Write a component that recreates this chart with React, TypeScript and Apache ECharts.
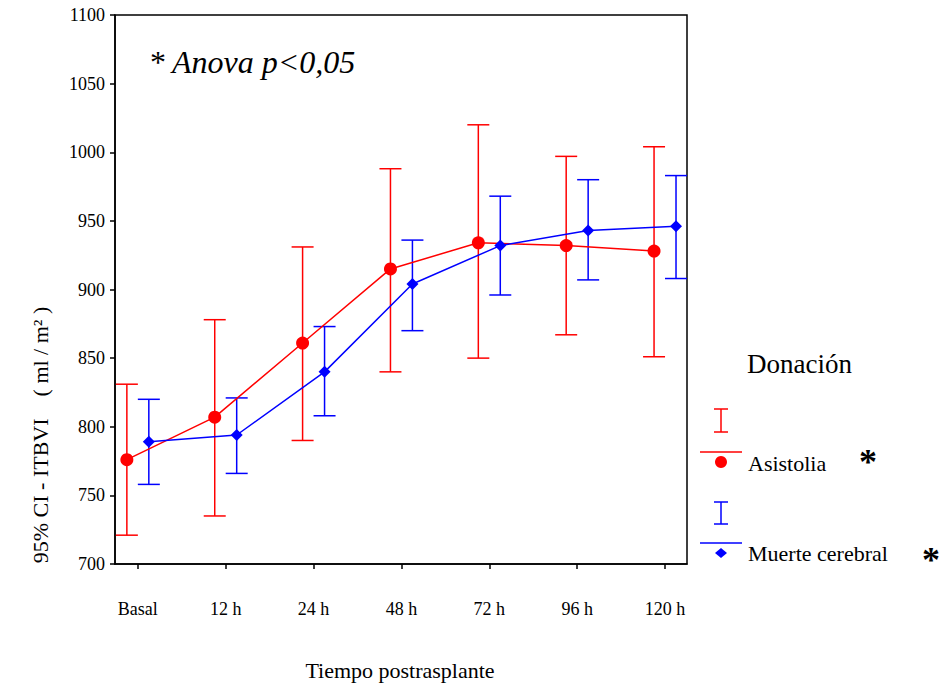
import React, { useEffect, useRef } from "react";
import * as echarts from "echarts";

const categories = ["Basal", "12 h", "24 h", "48 h", "72 h", "96 h", "120 h"];
const asistoliaMean = [776, 807, 861, 915, 934, 932, 928];
const asistoliaLow = [721, 735, 790, 840, 850, 867, 851];
const asistoliaHigh = [831, 878, 931, 988, 1020, 997, 1004];
const muerteMean = [789, 794, 840, 904, 932, 943, 946];
const muerteLow = [758, 766, 808, 870, 896, 907, 908];
const muerteHigh = [820, 821, 873, 936, 968, 980, 983];
const yTicks = [700, 750, 800, 850, 900, 950, 1000, 1050, 1100];

const RED = "#ff0000";
const BLUE = "#0000ff";
const FONT = "'Liberation Serif', 'Times New Roman', serif";
const OFFSET = 0.125;

function errorSeries(low: number[], high: number[], off: number, color: string) {
  return {
    type: "custom",
    data: low.map((l, i) => [i + off, l, high[i]]),
    renderItem: (params: any, api: any) => {
      const x = api.value(0);
      const lo = api.coord([x, api.value(1)]);
      const hi = api.coord([x, api.value(2)]);
      const hw = 11;
      const style = { stroke: color, lineWidth: 1.5 };
      return {
        type: "group",
        children: [
          { type: "line", shape: { x1: lo[0], y1: lo[1], x2: hi[0], y2: hi[1] }, style },
          { type: "line", shape: { x1: lo[0] - hw, y1: lo[1], x2: lo[0] + hw, y2: lo[1] }, style },
          { type: "line", shape: { x1: hi[0] - hw, y1: hi[1], x2: hi[0] + hw, y2: hi[1] }, style },
        ],
      };
    },
    z: 2,
  };
}

export default function App() {
  const ref = useRef<HTMLDivElement>(null);
  useEffect(() => {
    if (!ref.current) return;
    const chart = echarts.init(ref.current, null, { renderer: "svg" });
    const idx = categories.map((_, i) => i);
    chart.setOption({
      animation: false,
      backgroundColor: "#ffffff",
      grid: {
        left: 115,
        right: 259,
        top: 15,
        bottom: 122,
        show: true,
        borderColor: "#000",
        borderWidth: 1.5,
      },
      xAxis: {
        type: "value",
        min: -0.26,
        max: 6.25,
        splitLine: { show: false },
        axisLine: { onZero: false, lineStyle: { color: "#000", width: 1.5 } },
        axisTick: { show: true, length: 5, customValues: idx, lineStyle: { color: "#000", width: 1.5 } },
        axisLabel: {
          customValues: idx,
          formatter: (v: number) => categories[Math.round(v)] ?? "",
          margin: 36,
          color: "#000",
          fontFamily: FONT,
          fontSize: 18,
        },
      },
      yAxis: {
        type: "value",
        min: 700,
        max: 1100,
        interval: 50,
        splitLine: { show: false },
        axisLine: { show: true, onZero: false, lineStyle: { color: "#000", width: 1.5 } },
        axisTick: { show: true, length: 5, lineStyle: { color: "#000", width: 1.5 } },
        axisLabel: {
          customValues: yTicks,
          formatter: (v: number) => String(v),
          margin: 10,
          color: "#000",
          fontFamily: FONT,
          fontSize: 18,
        },
      },
      series: [
        errorSeries(asistoliaLow, asistoliaHigh, -OFFSET, RED),
        errorSeries(muerteLow, muerteHigh, OFFSET, BLUE),
        {
          type: "line",
          name: "Asistolia",
          data: asistoliaMean.map((v, i) => [i - OFFSET, v]),
          lineStyle: { color: RED, width: 1.5 },
          itemStyle: { color: RED },
          symbol: "circle",
          symbolSize: 13,
          z: 3,
        },
        {
          type: "line",
          name: "Muerte cerebral",
          data: muerteMean.map((v, i) => [i + OFFSET, v]),
          lineStyle: { color: BLUE, width: 1.5 },
          itemStyle: { color: BLUE },
          symbol: "diamond",
          symbolSize: 12,
          z: 3,
        },
      ],
      graphic: [
        {
          type: "text",
          x: 40,
          y: 435,
          rotation: Math.PI / 2,
          style: {
            text: "95% CI - ITBVI    ( ml / m² )",
            fontFamily: FONT,
            fontSize: 22,
            fill: "#000",
            align: "center",
            verticalAlign: "middle",
          },
        },
        {
          type: "text",
          x: 400,
          y: 670,
          style: {
            text: "Tiempo postrasplante",
            fontFamily: FONT,
            fontSize: 22,
            fill: "#000",
            align: "center",
            verticalAlign: "middle",
          },
        },
        {
          type: "text",
          x: 150,
          y: 62,
          style: {
            text: "*",
            fontFamily: FONT,
            fontSize: 32,
            fill: "#000",
            verticalAlign: "middle",
          },
        },
        {
          type: "text",
          x: 172,
          y: 62,
          style: {
            text: "Anova p<0,05",
            fontFamily: FONT,
            fontSize: 32,
            fontStyle: "italic",
            fill: "#000",
            verticalAlign: "middle",
          },
        },
        {
          type: "text",
          x: 747,
          y: 364,
          style: { text: "Donación", fontFamily: FONT, fontSize: 27, fill: "#000", verticalAlign: "middle" },
        },
        // Asistolia legend
        { type: "line", shape: { x1: 721, y1: 409, x2: 721, y2: 432 }, style: { stroke: RED, lineWidth: 1.5 } },
        { type: "line", shape: { x1: 714, y1: 409, x2: 728, y2: 409 }, style: { stroke: RED, lineWidth: 1.5 } },
        { type: "line", shape: { x1: 714, y1: 432, x2: 728, y2: 432 }, style: { stroke: RED, lineWidth: 1.5 } },
        { type: "line", shape: { x1: 700, y1: 452, x2: 742, y2: 452 }, style: { stroke: RED, lineWidth: 1.5 } },
        { type: "circle", shape: { cx: 721, cy: 462, r: 6 }, style: { fill: RED } },
        {
          type: "text",
          x: 748,
          y: 463,
          style: { text: "Asistolia", fontFamily: FONT, fontSize: 22, fill: "#000", verticalAlign: "middle" },
        },
        {
          type: "text",
          x: 868,
          y: 462,
          style: { text: "*", fontFamily: FONT, fontSize: 36, fontWeight: "bold", fill: "#000", align: "center", verticalAlign: "middle" },
        },
        // Muerte cerebral legend
        { type: "line", shape: { x1: 721, y1: 502, x2: 721, y2: 524 }, style: { stroke: BLUE, lineWidth: 1.5 } },
        { type: "line", shape: { x1: 714, y1: 502, x2: 728, y2: 502 }, style: { stroke: BLUE, lineWidth: 1.5 } },
        { type: "line", shape: { x1: 714, y1: 524, x2: 728, y2: 524 }, style: { stroke: BLUE, lineWidth: 1.5 } },
        { type: "line", shape: { x1: 700, y1: 543, x2: 742, y2: 543 }, style: { stroke: BLUE, lineWidth: 1.5 } },
        { type: "polygon", shape: { points: [[721, 548], [727, 553], [721, 558], [715, 553]] }, style: { fill: BLUE } },
        {
          type: "text",
          x: 748,
          y: 553,
          style: { text: "Muerte cerebral", fontFamily: FONT, fontSize: 22, fill: "#000", verticalAlign: "middle" },
        },
        {
          type: "text",
          x: 931,
          y: 560,
          style: { text: "*", fontFamily: FONT, fontSize: 36, fontWeight: "bold", fill: "#000", align: "center", verticalAlign: "middle" },
        },
      ],
    });
    return () => chart.dispose();
  }, []);
  return (
    <div
      ref={ref}
      style={{ position: "fixed", left: 0, top: 0, width: 946, height: 686, background: "#fff" }}
    />
  );
}
